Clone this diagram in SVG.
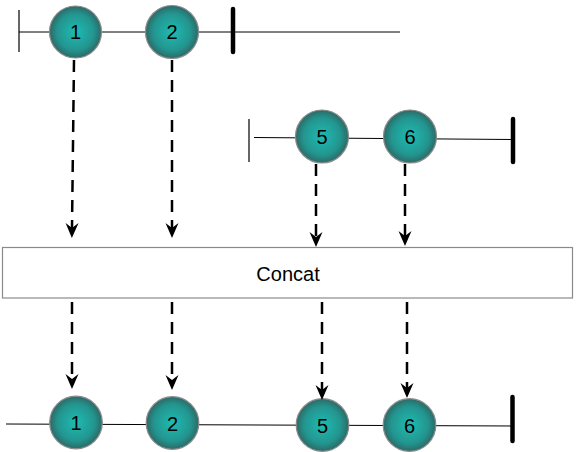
<svg xmlns="http://www.w3.org/2000/svg" width="576" height="452" viewBox="0 0 576 452">
  <style>
    .ball { fill: url(#teal); stroke: #8c8c8c; stroke-width: 1.2; }
    .lbl { font-family: "Liberation Sans", Arial, sans-serif; font-size: 20px; fill: #000; text-anchor: middle; }
    .line { stroke: #000; stroke-width: 1; fill: none; }
    .tick { stroke: #000; stroke-width: 1.2; }
    .bar { stroke: #000; stroke-width: 4.5; stroke-linecap: round; }
    .flow { stroke: #000; stroke-width: 2.5; stroke-dasharray: 12 8; fill: none; marker-end: url(#head); }
  </style>
  <defs>
    <radialGradient id="teal" cx="50%" cy="50%" r="50%">
      <stop offset="0%" stop-color="#1dbcb3"/>
      <stop offset="70%" stop-color="#23958f"/>
      <stop offset="100%" stop-color="#2c6a67"/>
    </radialGradient>
    <marker id="head" markerUnits="userSpaceOnUse" viewBox="0 0 16 14" refX="5" refY="7" markerWidth="16" markerHeight="14" orient="auto">
      <path d="M0,0.5 L15,7 L0,13.5 L5,7 z" fill="#000"/>
    </marker>
  </defs>

  <g id="timelines">
    <line class="line" x1="19" y1="32" x2="400" y2="32"/>
    <line class="tick" x1="19" y1="10" x2="19" y2="52"/>
    <line class="bar" x1="233" y1="9" x2="233" y2="52"/>

    <line class="line" x1="254" y1="137.5" x2="513" y2="139.5"/>
    <line class="tick" x1="249" y1="119" x2="249" y2="162"/>
    <line class="bar" x1="513" y1="119" x2="513" y2="162"/>

    <line class="line" x1="6" y1="424" x2="512" y2="426"/>
    <line class="bar" x1="512.5" y1="397" x2="512.5" y2="441"/>
  </g>

  <g id="node-top-1"><circle class="ball" cx="75.5" cy="32" r="26"/><text class="lbl" x="75.5" y="39">1</text></g>
  <g id="node-top-2"><circle class="ball" cx="172" cy="32" r="26.5"/><text class="lbl" x="172" y="39">2</text></g>
  <g id="node-mid-5"><circle class="ball" cx="322" cy="136.5" r="26.5"/><text class="lbl" x="322" y="143.5">5</text></g>
  <g id="node-mid-6"><circle class="ball" cx="410" cy="136.5" r="26.5"/><text class="lbl" x="410" y="143.5">6</text></g>

  <g id="concat">
    <rect x="2.5" y="247.5" width="570" height="50.5" fill="#fff" stroke="#8a8a8a" stroke-width="1.2"/>
    <text class="lbl" x="288" y="281">Concat</text>
  </g>

  <g id="node-out-1"><circle class="ball" cx="76" cy="422.5" r="26.3"/><text class="lbl" x="76" y="430">1</text></g>
  <g id="node-out-2"><circle class="ball" cx="172.5" cy="423" r="26.3"/><text class="lbl" x="172.5" y="430.5">2</text></g>
  <g id="node-out-5"><circle class="ball" cx="322.5" cy="425" r="26.3"/><text class="lbl" x="322.5" y="432.5">5</text></g>
  <g id="node-out-6"><circle class="ball" cx="409.5" cy="425" r="26.3"/><text class="lbl" x="409.5" y="432.5">6</text></g>

  <g id="connectors">
    <line class="flow" x1="74" y1="60" x2="72" y2="228"/>
    <line class="flow" x1="172" y1="60" x2="172" y2="228"/>
    <line class="flow" x1="316" y1="164" x2="316" y2="237"/>
    <line class="flow" x1="405" y1="164" x2="405" y2="236"/>
    <line class="flow" x1="72" y1="302" x2="72" y2="379"/>
    <line class="flow" x1="172" y1="302" x2="172" y2="380"/>
    <line class="flow" x1="322" y1="302" x2="322" y2="390"/>
    <line class="flow" x1="407" y1="302" x2="407" y2="388"/>
  </g>
</svg>
